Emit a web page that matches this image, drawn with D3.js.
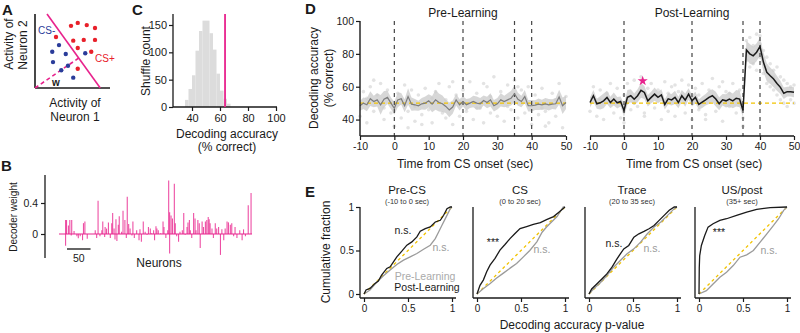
<!DOCTYPE html>
<html>
<head>
<meta charset="utf-8">
<style>
  body { margin: 0; background: #fff; }
  svg { font-family: "Liberation Sans", Arial, sans-serif; }
</style>
</head>
<body>
<svg id="fig" width="800" height="333"></svg>
<script src="https://d3js.org/d3.v7.min.js"></script>
<script>
// ---- panel A: schematic of two-neuron activity
const csPlusPts = [[0.48,0.84],[0.57,0.88],[0.69,0.85],[0.8,0.81],[0.28,0.69],[0.51,0.64],[0.65,0.65],[0.8,0.65],[0.57,0.54],[0.75,0.49],[0.57,0.26]];
const csMinusPts = [[0.32,0.58],[0.23,0.49],[0.41,0.46],[0.67,0.47],[0.24,0.35],[0.35,0.24],[0.44,0.3],[0.51,0.14]];
const boundary = [[0.16,1.0],[0.87,0]];
const weightVec = [[0,0],[0.59,0.41]];

// ---- panel B: decoder weight per neuron [neuron index, weight]
const decoderWeights = [[14,0.18],[14,-0.15],[16,0.18],[20,0.11],[23,0.18],[26,-0.02],[27,0.18],[32,0.04],[38,-0.03],[41,-0.055],[45,-0.03],[50,-0.08],[52,0.14],[55,0.16],[60,-0.06],[77,0.05],[80,-0.05],[83,0.43],[87,-0.03],[91,0.05],[93,0.16],[97,-0.04],[98,0.09],[101,0.07],[105,0.15],[109,-0.05],[112,0.14],[114,0.27],[117,0.07],[119,-0.07],[121,0.19],[123,-0.09],[126,0.12],[128,0.23],[133,0.03],[136,0.3],[140,0.18],[143,-0.05],[145,0.48],[148,0.13],[151,0.07],[155,-0.02],[157,0.16],[160,-0.05],[165,0.05],[170,-0.08],[172,0.06],[175,-0.1],[179,0.16],[183,0.03],[187,-0.01],[190,0.09],[194,0.07],[197,0.01],[201,0.05],[203,-0.08],[206,0.1],[208,0.07],[211,0.05],[216,0.01],[221,0.16],[223,0.09],[227,-0.05],[231,0.05],[233,0.69],[235,0.28],[235,-0.25],[238,0.24],[241,0.2],[245,0.65],[247,0.14],[250,-0.03],[254,-0.1],[257,0.03],[262,0.05],[265,0.27],[268,-0.01],[272,0.09],[274,0.15],[277,0.18],[279,0.05],[282,-0.05],[286,0.27],[289,0.2],[291,0.05],[295,0.18],[298,0.14],[300,-0.18],[304,0.16],[307,0.09],[311,0.16],[314,0.18],[317,0.22],[319,0.19],[321,0.14],[325,0.07],[328,-0.05],[332,0.14],[335,0.07],[339,0.09],[343,-0.27],[346,0.06],[350,-0.08],[353,0.07],[357,0.16],[360,0.15],[364,0.12],[367,0.14],[371,-0.03],[374,0.09],[378,-0.05],[384,0.05],[389,-0.08],[392,0.06],[396,-0.03],[402,0.37],[408,0.53]];
const neuronCount = 410;
const bTicks = [0, 0.4];

// ---- panel C: shuffle distribution
const shuffleBinStart = [35,37.5,40,42.5,45,47.5,50,52.5,55,57.5,60,62.5,65];
const shuffleCounts = [13,33,58,103,139,158,158,135,105,61,30,15,6];
const binWidth = 2.5;
const observedAcc = 63.6;
const cXTicks = [40,60,80,100];
const cYTicks = [0,50,100,150];

// ---- panel D: decoding accuracy over time
const timeSec = [-10,-9,-8,-7,-6,-5,-4,-3,-2,-1,0,1,2,3,4,5,6,7,8,9,10,11,12,13,14,15,16,17,18,19,20,21,22,23,24,25,26,27,28,29,30,31,32,33,34,35,36,37,38,39,40,41,42,43,44,45,46,47,48,49,50];
const preMean = [48.4,50,49,52.7,51,52,49,52.4,53.5,50, 46.9,52,52.7,48.4,54,49.4,49,48.4,49.6,50, 51.4,49.4,52,50.4,49.6,48,45.9,47.6,52,49, 51,49,50,51,50,49.6,51.6,50.4,52,48.4, 49.6,52,51,52,53,55.7,52.4,51,54,48.4, 48.4,48.8,49.4,49,49.6,49,49.4,49.6,53.7,48.4,50.4];
const preSem = [3,3.5,4,4.5,3.5,4,6,5,4,3.5, 4,4.5,3.5,4,5,4,3.5,3,3.5,4, 4,5,6,5.5,5,4,4.5,4,3.5,3.5, 3,3.5,3,3.5,4,3.5,3,3.5,4,3.5, 3.5,4,3.5,4,4.5,5,4,3.5,4,3.5, 3.5,3,3.5,3,3.5,3.5,3,3.5,4.5,5,4];
const postMean = [50.4,54.5,49.6,50.2,51.4,53.5,50.4,52.5,50.2,51, 45.5,53.5,54.5,52.4,54.5,57.8,56.5,51.4,53.5,55.5, 53.5,55,49.2,52.6,52,53.5,50.4,54.5,51.8,55.5, 51.4,53.5,49.2,50.6,52,53.5,54.5,52.5,49.6,52, 51.4,52.5,51.4,53,52.5,45.5,82.4,80,78.8,81, 84.5,75,68.8,66.7,64.7,62,59.6,56,57,57,56.6];
const postSem = [3,3.5,3,4,4.5,4,3.5,4,3.5,3, 4,4.5,4,3.5,4,4.5,4,3.5,3.5,4, 3.5,3.5,3,3.5,3.5,4,3.5,3.5,4,3.5, 3.5,3.5,3,3.5,3.5,4,4,4.5,4,3.5, 4,4.5,4.5,5,5,4,5.5,6,5.5,5.5, 5.5,6,5.5,5,5,4.5,4,3.5,3,3,3];
const preDots = [[-10,42],[-9,57],[-8,38],[-7,60],[-6,45],[-5,55],[-4,62],[-3,40],[-2,58],[-1,44],[0,36],[1,56],[2,41],[3,61],[4,45],[5,58],[6,39],[7,55],[8,43],[9,59],[10,46],[11,38],[12,57],[13,62],[14,44],[15,41],[16,60],[17,37],[18,55],[19,42],[20,58],[21,45],[22,63],[23,40],[24,56],[25,47],[26,38],[27,60],[28,44],[29,66],[30,42],[31,57],[32,39],[33,61],[34,46],[35,64],[36,41],[37,58],[38,44],[39,60],[40,37],[41,55],[42,43],[43,59],[44,45],[45,38],[46,56],[47,42],[48,62],[49,35],[50,54],[-8,53],[-3,47],[2,52],[6,48],[11,53],[15,52],[19,51],[24,47],[28,54],[33,48],[38,53],[43,47],[47,52],[8,37],[17,63],[26,62],[36,60],[44,36],[-6,64],[4,35]];
const postDots = [[-10,45],[-9,60],[-8,42],[-7,58],[-6,40],[-5,56],[-4,62],[-3,44],[-2,59],[-1,41],[0,38],[1,62],[2,46],[3,64],[4,48],[5,66],[6,44],[7,59],[8,62],[9,47],[10,58],[11,40],[12,63],[13,45],[14,60],[15,42],[16,57],[17,64],[18,44],[19,61],[20,40],[21,59],[22,46],[23,62],[24,43],[25,58],[26,65],[27,45],[28,60],[29,39],[30,57],[31,48],[32,62],[33,44],[34,58],[35,41],[35,36],[36,88],[36,76],[37,90],[37,72],[38,85],[38,74],[39,92],[39,70],[40,91],[40,78],[41,82],[41,68],[42,78],[42,62],[43,74],[43,60],[44,70],[44,58],[45,72],[45,55],[46,66],[46,52],[47,64],[47,50],[48,62],[48,48],[49,60],[49,52],[50,61],[50,50],[-7,52],[0,55],[3,50],[9,55],[13,56],[18,53],[22,55],[27,53],[31,56],[34,50],[38,80],[40,86],[44,66],[46,60],[6,42],[15,61],[24,40],[29,63]];
const epochBounds = [0, 20, 35, 40];
const chanceLevel = 50;
const dXTicks = [-10,0,10,20,30,40,50];
const dYTicks = [40,60,80,100];
const starPoint = [5.5, 63.5];

// ---- panel E: cumulative distributions of p-values [p, fraction]
const epochNames = ["Pre-CS", "CS", "Trace", "US/post"];
const epochRanges = ["(-10 to 0 sec)", "(0 to 20 sec)", "(20 to 35 sec)", "(35+ sec)"];
const ecdfPre = [
  [[0,0],[0.068,0.046],[0.144,0.134],[0.221,0.21],[0.297,0.275],[0.373,0.34],[0.449,0.389],[0.525,0.427],[0.601,0.466],[0.677,0.515],[0.753,0.561],[0.81,0.637],[0.848,0.713],[0.886,0.79],[0.924,0.866],[0.981,0.981],[1,1]],
  [[0,0],[0.07,0.06],[0.15,0.12],[0.22,0.18],[0.3,0.24],[0.38,0.3],[0.45,0.35],[0.53,0.43],[0.6,0.5],[0.68,0.6],[0.74,0.71],[0.79,0.77],[0.85,0.83],[0.91,0.89],[0.98,1],[1,1]],
  [[0,0],[0.05,0.058],[0.126,0.127],[0.203,0.212],[0.28,0.308],[0.356,0.385],[0.433,0.462],[0.51,0.519],[0.586,0.596],[0.663,0.692],[0.739,0.769],[0.816,0.827],[0.893,0.904],[0.969,0.981],[1,1]],
  [[0,0],[0.084,0.038],[0.16,0.115],[0.237,0.192],[0.313,0.25],[0.389,0.327],[0.466,0.423],[0.542,0.45],[0.618,0.5],[0.695,0.596],[0.771,0.692],[0.847,0.788],[0.905,0.865],[0.962,0.962],[1,1]]
];
const ecdfPost = [
  [[0,0],[0.023,0.046],[0.068,0.065],[0.125,0.122],[0.163,0.149],[0.2,0.218],[0.259,0.294],[0.297,0.313],[0.335,0.37],[0.373,0.427],[0.43,0.492],[0.487,0.561],[0.544,0.599],[0.601,0.656],[0.639,0.721],[0.696,0.752],[0.753,0.771],[0.81,0.828],[0.867,0.847],[0.905,0.905],[0.943,0.981],[0.981,1],[1,1]],
  [[0,0],[0.034,0.1],[0.072,0.16],[0.11,0.256],[0.148,0.332],[0.205,0.41],[0.261,0.504],[0.318,0.569],[0.375,0.637],[0.432,0.695],[0.489,0.752],[0.564,0.775],[0.64,0.8],[0.72,0.82],[0.79,0.855],[0.87,0.89],[0.93,0.94],[1,1]],
  [[0,0],[0.03,0.058],[0.088,0.115],[0.146,0.173],[0.203,0.231],[0.261,0.308],[0.318,0.404],[0.356,0.462],[0.395,0.519],[0.452,0.558],[0.51,0.654],[0.567,0.692],[0.625,0.719],[0.682,0.75],[0.739,0.788],[0.797,0.846],[0.854,0.904],[0.912,0.962],[0.969,1],[1,1]],
  [[0,0],[0.003,0.3],[0.008,0.442],[0.027,0.558],[0.065,0.673],[0.103,0.769],[0.16,0.808],[0.237,0.846],[0.313,0.865],[0.427,0.904],[0.542,0.942],[0.656,0.973],[0.809,0.992],[1,1]]
];
const statPost = ["n.s.", "***", "n.s.", "***"];
const statPre = ["n.s.", "n.s.", "n.s.", "n.s."];
const eTicks = [0, 0.5, 1];

// colours
const magenta = "#e8238d", ink = "#1a1a1a", grey = "#9b9b9b", gold = "#f2c300";

const svg = d3.select("#fig");

function txt(x, y, s, size, opts) {
  opts = opts || {};
  return svg.append("text").attr("x", x).attr("y", y)
    .attr("font-size", size)
    .attr("text-anchor", opts.anchor || "middle")
    .attr("font-weight", opts.bold ? "bold" : "normal")
    .attr("fill", opts.color || ink)
    .text(s);
}
function vtxt(x, y, s, size, color) {
  return svg.append("text").attr("transform", `translate(${x},${y}) rotate(-90)`)
    .attr("font-size", size).attr("text-anchor", "middle")
    .attr("fill", color || ink).text(s);
}
function seg(x1, y1, x2, y2, color, w, dash) {
  return svg.append("line").attr("x1", x1).attr("y1", y1).attr("x2", x2).attr("y2", y2)
    .attr("stroke", color || ink).attr("stroke-width", w || 1.3)
    .attr("stroke-dasharray", dash || null);
}
// style a d3 axis: drop the domain path, thin ticks, our font
function styleAxis(g, size) {
  g.attr("font-family", null).attr("font-size", size || 10);
  g.select(".domain").remove();
  g.selectAll(".tick line").attr("stroke", ink).attr("stroke-width", 1.2);
  g.selectAll(".tick text").attr("fill", ink);
}

// ================= A =================
txt(2, 15, "A", 15, {anchor: "start", bold: true});
const xA = d3.scaleLinear().domain([0, 1]).range([35, 110]);
const yA = d3.scaleLinear().domain([0, 1]).range([88, 14]);
seg(xA(0), yA(1), xA(0), yA(0), ink, 1.6);
seg(xA(0), yA(0), xA(1), yA(0), ink, 1.6);
seg(xA(boundary[0][0]), yA(boundary[0][1]), xA(boundary[1][0]), yA(boundary[1][1]), magenta, 1.6);
seg(xA(weightVec[0][0]), yA(weightVec[0][1]), xA(weightVec[1][0]), yA(weightVec[1][1]), magenta, 1.6, "4,3");
svg.selectAll(".csplus").data(csPlusPts).enter().append("circle")
  .attr("cx", d => xA(d[0])).attr("cy", d => yA(d[1])).attr("r", 2.2).attr("fill", "#e8202a");
svg.selectAll(".csminus").data(csMinusPts).enter().append("circle")
  .attr("cx", d => xA(d[0])).attr("cy", d => yA(d[1])).attr("r", 2.2).attr("fill", "#2a3c9a");
txt(38, 34, "CS-", 10, {anchor: "start", color: "#2a3c9a"});
txt(95, 62, "CS+", 10, {anchor: "start", color: "#e8202a"});
txt(56, 86, "w", 10, {bold: true});
vtxt(13, 44, "Activity of", 12);
vtxt(27, 45, "Neuron 2", 12);
txt(75, 107, "Activity of", 12);
txt(75, 121, "Neuron 1", 12);

// ================= B =================
txt(1, 171, "B", 15, {anchor: "start", bold: true});
const xB = d3.scaleLinear().domain([0, neuronCount]).range([59, 252]);
const yB = d3.scaleLinear().domain([0, 0.4]).range([234, 203]);
seg(45, yB(0.76), 45, yB(-0.31), ink, 1.3);
svg.append("g").attr("transform", "translate(45,0)")
  .call(d3.axisLeft(yB).tickValues(bTicks).tickSize(4).tickPadding(3).tickFormat(d => d === 0 ? "0" : String(d)))
  .call(g => styleAxis(g, 10.5));
seg(xB(0), yB(0), xB(neuronCount), yB(0), magenta, 1.1);
svg.selectAll(".wbar").data(decoderWeights).enter().append("line")
  .attr("x1", d => xB(d[0])).attr("x2", d => xB(d[0]))
  .attr("y1", yB(0)).attr("y2", d => yB(d[1]))
  .attr("stroke", magenta).attr("stroke-width", 1.1).attr("stroke-opacity", 0.8);
seg(xB(17), 249, xB(67), 249, "#333", 1.5);
txt(xB(42), 262, "50", 10.5);
txt(159, 267, "Neurons", 12);
vtxt(17, 217, "Decoder weight", 10);

// ================= C =================
txt(132, 15, "C", 15, {anchor: "start", bold: true});
const xC = d3.scaleLinear().domain([40, 100]).range([192, 276]);
const yC = d3.scaleLinear().domain([0, 150]).range([107, 25]);
svg.selectAll(".hbar").data(shuffleCounts).enter().append("rect")
  .attr("x", (d, i) => xC(shuffleBinStart[i]))
  .attr("width", xC(binWidth) - xC(0))
  .attr("y", d => yC(d)).attr("height", d => yC(0) - yC(d))
  .attr("fill", "#dcdcdc");
seg(173, 14, 173, 107, ink, 1.3);
seg(173, 107, 277, 107, ink, 1.3);
svg.append("g").attr("transform", "translate(173,0)")
  .call(d3.axisLeft(yC).tickValues(cYTicks).tickSize(4).tickPadding(2))
  .call(g => styleAxis(g, 11));
svg.append("g").attr("transform", "translate(0,107)")
  .call(d3.axisBottom(xC).tickValues(cXTicks).tickSize(4).tickPadding(3))
  .call(g => styleAxis(g, 11));
seg(xC(observedAcc), 14, xC(observedAcc), 107, magenta, 1.8);
vtxt(150, 61, "Shuffle count", 12);
txt(227, 138, "Decoding accuracy", 12);
txt(227, 151, "(% correct)", 12);

// ================= D =================
txt(305, 14, "D", 15, {anchor: "start", bold: true});
const yD = d3.scaleLinear().domain([30, 100]).range([136, 21]);
const dPanels = [
  {x0: 360, x1: 566, title: "Pre-Learning", mean: preMean, sem: preSem, dots: preDots, line: "#7d7d7d", lw: 1.2, yAxis: true},
  {x0: 590, x1: 794, title: "Post-Learning", mean: postMean, sem: postSem, dots: postDots, line: ink, lw: 1.5, yAxis: false}
];
dPanels.forEach(p => {
  const x = d3.scaleLinear().domain([-10, 50]).range([p.x0, p.x1]);
  const g = svg.append("g");
  g.selectAll("circle").data(p.dots).enter().append("circle")
    .attr("cx", d => x(d[0])).attr("cy", d => yD(d[1])).attr("r", 1.8).attr("fill", "#e3e3e3");
  const area = d3.area().x((d, i) => x(timeSec[i]))
    .y0((d, i) => yD(p.mean[i] - p.sem[i])).y1((d, i) => yD(p.mean[i] + p.sem[i]));
  g.append("path").datum(p.mean).attr("d", area).attr("fill", "#c9c9c9").attr("fill-opacity", 0.75);
  g.append("line").attr("x1", x(-10)).attr("x2", x(50)).attr("y1", yD(chanceLevel)).attr("y2", yD(chanceLevel))
    .attr("stroke", gold).attr("stroke-width", 1.3).attr("stroke-dasharray", "4,3");
  epochBounds.forEach(t => {
    g.append("line").attr("x1", x(t)).attr("x2", x(t)).attr("y1", yD(100)).attr("y2", yD(30))
      .attr("stroke", "#444").attr("stroke-width", 1.2).attr("stroke-dasharray", "4,4");
  });
  const line = d3.line().x((d, i) => x(timeSec[i])).y(d => yD(d));
  g.append("path").datum(p.mean).attr("d", line).attr("fill", "none")
    .attr("stroke", p.line).attr("stroke-width", p.lw);
  seg(p.x0, 136, p.x1, 136, ink, 1.4);
  svg.append("g").attr("transform", "translate(0,136)")
    .call(d3.axisBottom(x).tickValues(dXTicks).tickSize(4).tickPadding(3).tickFormat(d => String(d)))
    .call(a => styleAxis(a, 10.5));
  if (p.yAxis) {
    seg(p.x0, yD(100), p.x0, 136, ink, 1.4);
    svg.append("g").attr("transform", `translate(${p.x0},0)`)
      .call(d3.axisLeft(yD).tickValues(dYTicks).tickSize(4).tickPadding(2))
      .call(a => styleAxis(a, 10.5));
  }
  txt((p.x0 + p.x1) / 2, 17, p.title, 12);
  txt((p.x0 + p.x1) / 2 + 2, 168, "Time from CS onset (sec)", 12);
  if (!p.yAxis) {
    svg.append("path").attr("d", d3.symbol().type(d3.symbolStar).size(32)())
      .attr("transform", `translate(${x(starPoint[0])},${yD(starPoint[1])})`).attr("fill", magenta);
  }
});
vtxt(318, 78, "Decoding accuracy", 12);
vtxt(333, 78, "(% correct)", 12);

// ================= E =================
txt(305, 197, "E", 15, {anchor: "start", bold: true});
const eX0 = [364, 477, 589, 699];
const yE = d3.scaleLinear().domain([0, 1]).range([294, 207]);
const postLabelPos = [[39, 234], [16, 246], [25, 247], [20, 236]];
const preLabelPos = [[77, 251], [65, 253], [63, 252], [70, 254]];
eX0.forEach((x0, k) => {
  const x = d3.scaleLinear().domain([0, 1]).range([x0, x0 + 88]);
  seg(x0 - 4, 207, x0 - 4, 298, ink, 1.3);
  seg(x0 - 4, 298, x0 + 92, 298, ink, 1.3);
  svg.append("g").attr("transform", "translate(0,298)")
    .call(d3.axisBottom(x).tickValues(eTicks).tickSize(4).tickPadding(3).tickFormat(d3.format("")))
    .call(a => styleAxis(a, 10));
  if (k === 0) {
    svg.append("g").attr("transform", `translate(${x0 - 4},0)`)
      .call(d3.axisLeft(yE).tickValues(eTicks).tickSize(4).tickPadding(2).tickFormat(d3.format("")))
      .call(a => styleAxis(a, 10));
  }
  const line = d3.line().x(d => x(d[0])).y(d => yE(d[1]));
  svg.append("path").attr("d", line([[0, 0], [1, 1]])).attr("fill", "none")
    .attr("stroke", gold).attr("stroke-width", 1.3).attr("stroke-dasharray", "3,3");
  svg.append("path").attr("d", line(ecdfPre[k])).attr("fill", "none")
    .attr("stroke", grey).attr("stroke-width", 1.3);
  svg.append("path").attr("d", line(ecdfPost[k])).attr("fill", "none")
    .attr("stroke", ink).attr("stroke-width", 1.3);
  txt(x0 + 43, 194, epochNames[k], 11.5);
  txt(x0 + 43, 204, epochRanges[k], 7.5, {color: "#333"});
  txt(x0 + postLabelPos[k][0], postLabelPos[k][1], statPost[k], 10.5);
  txt(x0 + preLabelPos[k][0], preLabelPos[k][1], statPre[k], 10.5, {color: grey});
});
txt(425, 280, "Pre-Learning", 10.5, {color: "#aaa"});
txt(427, 291, "Post-Learning", 10.5);
vtxt(330, 252, "Cumulative fraction", 12);
txt(572, 329, "Decoding accuracy p-value", 12);
</script>
</body>
</html>
